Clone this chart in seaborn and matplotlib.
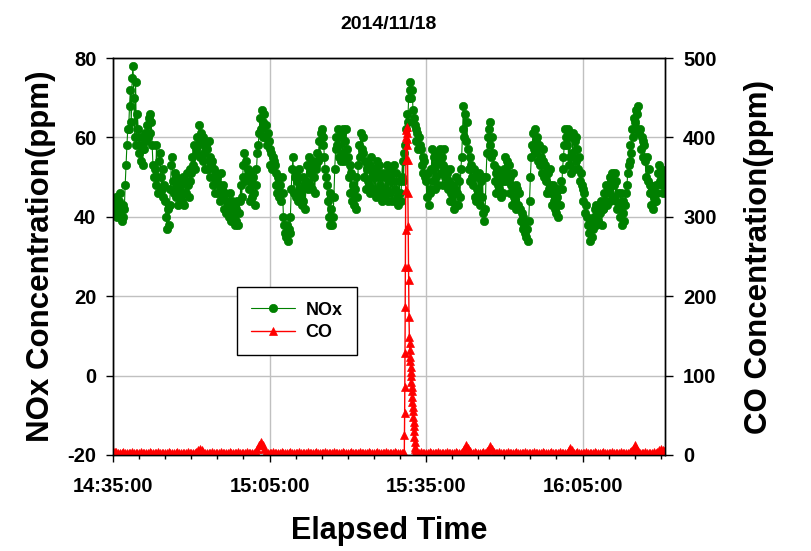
import numpy as np
import pandas as pd
import matplotlib
matplotlib.use("Agg")
import matplotlib.pyplot as plt
import matplotlib.dates as mdates
import seaborn as sns

# ---------------- data ----------------
title_text = "2014/11/18"
start_time = "2014-11-18 14:35:00"
end_time = "2014-11-18 16:20:48"
nox_step_s = 10          # NOx sampled every 10 s
co_step_s = 20           # CO baseline sampled every 20 s

nox_ppm = [
    # 14:35 - 14:45
    42, 44, 41, 43, 45, 40, 41, 44, 46, 42, 39, 43, 40, 42, 48, 53, 58, 62,
    62, 68, 72, 64, 75, 78, 70, 60, 74, 58, 66, 62, 56, 60, 54, 58, 53, 57,
    57, 61, 59, 63, 60, 65, 66, 61, 64, 58, 53, 50, 52, 48, 58, 50, 46, 54,
    56, 50, 47, 52, 45, 48,
    # 14:45 - 14:55
    44, 40, 37, 42, 38, 43, 47, 53, 55, 49, 46, 51, 45, 50, 47, 43, 49, 46,
    48, 44, 50, 46, 43, 49, 46, 51, 48, 45, 52, 49, 51, 55, 53, 58, 52, 57,
    56, 60, 58, 63, 55, 61, 59, 54, 60, 56, 52, 58, 57, 52, 59, 50, 55, 53,
    54, 48, 52, 46, 51, 49,
    # 14:55 - 15:05
    50, 46, 48, 44, 51, 47, 45, 48, 42, 46, 41, 44, 43, 40, 46, 42, 39, 44,
    40, 43, 38, 42, 39, 44, 38, 41, 44, 48, 45, 50, 53, 56, 49, 54, 50, 52,
    47, 51, 44, 49, 45, 50, 46, 43, 48, 52, 56, 58, 61, 65, 62, 67, 60, 64,
    66, 60, 63, 58, 61, 59,
    # 15:05 - 15:15
    57, 53, 56, 52, 55, 54, 53, 48, 51, 46, 50, 45, 48, 44, 50, 46, 40, 38,
    36, 35, 38, 34, 37, 36, 40, 47, 52, 55, 46, 50, 51, 45, 49, 44, 52, 47,
    46, 43, 50, 44, 48, 42, 49, 53, 47, 55, 51, 48, 52, 47, 54, 50, 46, 53,
    52, 56, 54, 59, 55, 61,
    # 15:15 - 15:25
    62, 58, 60, 55, 52, 50, 48, 44, 40, 46, 38, 42, 38, 40, 45, 52, 57, 60,
    58, 62, 55, 60, 54, 61, 56, 62, 54, 59, 62, 57, 55, 50, 53, 46, 51, 44,
    48, 43, 47, 42, 50, 45, 53, 58, 55, 61, 57, 60, 56, 50, 54, 47, 52, 49,
    48, 53, 46, 55, 50, 52,
    # 15:25 - 15:35
    47, 52, 45, 50, 54, 46, 53, 48, 51, 44, 50, 47, 45, 51, 47, 53, 44, 49,
    50, 46, 52, 44, 49, 53, 47, 44, 51, 45, 43, 49, 46, 44, 50, 54, 49, 56,
    58, 62, 66, 64, 70, 72, 74, 70, 72, 67, 65, 63, 62, 59, 61, 57, 60, 58,
    57, 53, 55, 51, 54, 50,
    # 15:35 - 15:45
    49, 45, 51, 43, 47, 46, 52, 57, 49, 55, 47, 53, 50, 56, 48, 54, 57, 51,
    55, 48, 53, 57, 50, 52, 51, 47, 49, 44, 52, 46, 44, 48, 42, 47, 43, 50,
    46, 43, 49, 45, 52, 55, 62, 68, 60, 66, 59, 64, 57, 52, 55, 49, 53, 50,
    48, 52, 45, 50, 44, 47,
    # 15:45 - 15:55
    46, 51, 43, 49, 45, 50, 41, 39, 42, 50, 56, 60, 62, 58, 64, 55, 60, 56,
    53, 49, 51, 46, 52, 48, 47, 51, 45, 50, 46, 49, 52, 55, 49, 54, 51, 53,
    50, 46, 48, 43, 51, 45, 44, 48, 42, 47, 43, 46, 42, 39, 41, 37, 40, 38,
    36, 35, 37, 34, 39, 44,
    # 15:55 - 16:05
    50, 55, 58, 61, 57, 62, 59, 56, 60, 54, 58, 53, 55, 51, 54, 57, 50, 53,
    49, 46, 51, 47, 52, 48, 46, 43, 48, 44, 42, 47, 41, 45, 40, 47, 43, 49,
    47, 52, 55, 58, 62, 60, 58, 62, 53, 60, 55, 51, 56, 61, 52, 59, 54, 60,
    57, 52, 55, 49, 51, 48,
    # 16:05 - 16:15
    47, 44, 46, 41, 43, 40, 38, 36, 39, 34, 37, 35, 37, 40, 42, 38, 43, 41,
    39, 43, 41, 44, 38, 42, 42, 46, 44, 48, 43, 47, 46, 50, 44, 49, 51, 45,
    48, 51, 44, 49, 42, 46, 43, 40, 46, 38, 44, 41, 39, 43, 46, 48, 51, 53,
    54, 58, 56, 62, 60, 65,
    # 16:15 - 16:21
    64, 67, 62, 66, 68, 61, 62, 57, 60, 55, 59, 58, 54, 50, 55, 49, 52, 48,
    46, 43, 47, 42, 45, 44, 44, 48, 46, 51, 53, 49, 52, 48, 50, 46, 51, 49,
]

co_base_ppm = [
    5, 4, 4, 3, 2, 3, 4, 3, 2, 3, 3, 4, 2, 3, 3, 2, 4, 3, 3, 2,
    3, 4, 3, 2, 3, 3, 4, 2, 3, 3, 2, 3, 4, 3, 2, 3, 3, 4, 3, 2,
    3, 3, 2, 4, 3, 3, 2, 3, 4, 6, 7, 6, 4, 3, 2, 3, 3, 4, 2, 3,
    3, 2, 4, 3, 3, 2, 3, 4, 3, 2, 3, 3, 4, 2, 3, 3, 2, 4, 3, 3,
    2, 3, 4, 7, 12, 17, 13, 8, 4, 3, 2, 3, 4, 3, 3, 2, 3, 4, 3, 2,
    3, 3, 4, 2, 3, 3, 2, 4, 3, 3, 2, 3, 4, 3, 2, 3, 3, 4, 2, 3,
    3, 2, 4, 3, 3, 2, 3, 4, 3, 2, 3, 3, 4, 2, 3, 3, 2, 4, 3, 3,
    2, 3, 4, 3, 3, 2, 3, 4, 3, 2, 3, 3, 4, 2, 3, 3, 2, 4, 3, 3,
    2, 3, 4, 3, 3, 2, 3, 3, 3, 3, 3, 3, 3, 3, 3, 2, 3, 4, 3, 2,
    3, 3, 4, 2, 3, 3, 2, 4, 3, 3, 2, 3, 4, 3, 2, 3, 3, 4, 2, 3,
    3, 5, 8, 12, 9, 5, 3, 2, 4, 3, 3, 2, 3, 4, 3, 5, 8, 11, 7, 4,
    3, 2, 4, 3, 3, 2, 3, 4, 3, 2, 3, 3, 4, 2, 3, 3, 2, 4, 3, 3,
    2, 3, 4, 3, 3, 2, 3, 4, 3, 2, 3, 3, 4, 2, 3, 3, 2, 4, 3, 3,
    3, 2, 6, 9, 6, 3, 3, 4, 2, 3, 3, 2, 4, 3, 3, 2, 3, 4, 3, 2,
    3, 3, 4, 2, 3, 3, 2, 4, 3, 3, 2, 3, 4, 3, 2, 3, 3, 4, 5, 8,
    13, 9, 5, 3, 2, 3, 4, 3, 3, 2, 3, 4, 3, 4, 6, 7, 6, 5,
]

# CO release event around 15:31 (seconds after 14:35:00)
co_spike_s = [3350, 3352, 3354, 3356, 3358, 3360, 3362, 3364, 3366, 3368, 3370, 3373, 3376, 3379, 3382,
              3385, 3388, 3391, 3394, 3397, 3400, 3404, 3408, 3411, 3414, 3417, 3420, 3423, 3426, 3429,
              3432, 3435, 3438, 3441, 3444, 3447, 3450, 3453, 3456, 3459, 3462, 3465, 3468, 3472, 3476,
              3480, 3485, 3490]
co_spike_ppm = [3, 25, 53, 86, 128, 186, 237, 283, 334, 372, 400, 409, 413, 406, 398,
                390, 372, 330, 288, 237, 220, 174, 149, 141, 132, 124, 118, 111, 105, 99,
                92, 86, 80, 73, 67, 61, 55, 48, 42, 36, 30, 23, 17, 10, 7,
                5, 4, 3]

# ---------------- tables ----------------
t0 = pd.Timestamp(start_time)
nox_df = pd.DataFrame({
    "time": t0 + pd.to_timedelta(np.arange(len(nox_ppm)) * nox_step_s, unit="s"),
    "NOx": nox_ppm,
})
co_base = pd.DataFrame({
    "sec": np.arange(len(co_base_ppm)) * co_step_s,
    "CO": co_base_ppm,
})
co_base = co_base[(co_base["sec"] < min(co_spike_s)) | (co_base["sec"] > max(co_spike_s))]
co_df = pd.concat([co_base, pd.DataFrame({"sec": co_spike_s, "CO": co_spike_ppm})])
co_df = co_df.sort_values("sec")
co_df["time"] = t0 + pd.to_timedelta(co_df["sec"], unit="s")

# ---------------- style ----------------
sns.set_theme(style="ticks")
plt.rcParams["font.family"] = ["Liberation Sans", "DejaVu Sans"]
plt.rcParams.update({
    "font.weight": "bold",
    "axes.labelweight": "bold",
    "axes.edgecolor": "black",
    "axes.linewidth": 1.0,
    "text.color": "black",
    "axes.labelcolor": "black",
    "xtick.color": "black",
    "ytick.color": "black",
    "axes.unicode_minus": False,
})

GREEN = "#008000"
RED = "#ff0000"

fig = plt.figure(figsize=(8.11, 5.51), dpi=100)
ax = fig.add_axes([113 / 811, 96 / 551, 552 / 811, 397 / 551])
ax2 = ax.twinx()

sns.lineplot(data=nox_df, x="time", y="NOx", ax=ax, color=GREEN, lw=0.8,
             marker="o", markersize=6, markeredgecolor=GREEN, markeredgewidth=0.5,
             label="NOx", legend=False)
sns.lineplot(data=co_df, x="time", y="CO", ax=ax2, color=RED, lw=1.0,
             marker="^", markersize=5.5, markeredgecolor=RED, markeredgewidth=0.5,
             label="CO", legend=False)

# axes limits & ticks
ax.set_xlim(pd.Timestamp(start_time), pd.Timestamp(end_time))
ax.set_ylim(-20, 80)
ax.set_yticks([-20, 0, 20, 40, 60, 80])
ax2.set_ylim(0, 500)
ax2.set_yticks([0, 100, 200, 300, 400, 500])

ax.xaxis.set_major_locator(mdates.MinuteLocator(byminute=[5, 35]))
ax.xaxis.set_minor_locator(mdates.MinuteLocator(byminute=range(0, 60, 5)))
ax.xaxis.set_major_formatter(mdates.DateFormatter("%H:%M:%S"))

ax.grid(True, which="major", color="#c0c0c0", lw=1)
ax.set_axisbelow(True)

ax.tick_params(axis="x", which="major", direction="out", length=5, width=1, labelsize=14.5, pad=11)
ax.tick_params(axis="x", which="minor", direction="out", length=3, width=1, bottom=True)
ax.tick_params(axis="y", which="major", direction="out", length=5, width=1, labelsize=14.5, pad=7)
ax2.tick_params(axis="y", which="major", direction="out", length=6, width=1, labelsize=14.5, pad=7)

for a in (ax, ax2):
    for s in a.spines.values():
        s.set_visible(True)
        s.set_color("black")
        s.set_linewidth(1.0)

ax.set_xlabel("Elapsed Time", fontsize=22, fontweight="bold", labelpad=14)
ax.set_ylabel("NOx Concentration(ppm)", fontsize=22.5, fontweight="bold", labelpad=8)
ax2.set_ylabel("CO Concentration(ppm)", fontsize=22.5, fontweight="bold", labelpad=20)
ax.set_title(title_text, fontsize=14, fontweight="bold", pad=21)

handles = [ax.get_lines()[0], ax2.get_lines()[0]]
leg = ax2.legend(handles, ["NOx", "CO"], loc="upper left", bbox_to_anchor=(0.2246, 0.423),
                 borderaxespad=0, fontsize=13, frameon=True, fancybox=False, framealpha=1,
                 edgecolor="black", borderpad=0.8, labelspacing=0.3, handlelength=2.4,
                 handletextpad=0.6, numpoints=1)
leg.get_frame().set_linewidth(1.0)
for t in leg.get_texts():
    t.set_fontweight("bold")

fig.savefig("out.png", dpi=100)
